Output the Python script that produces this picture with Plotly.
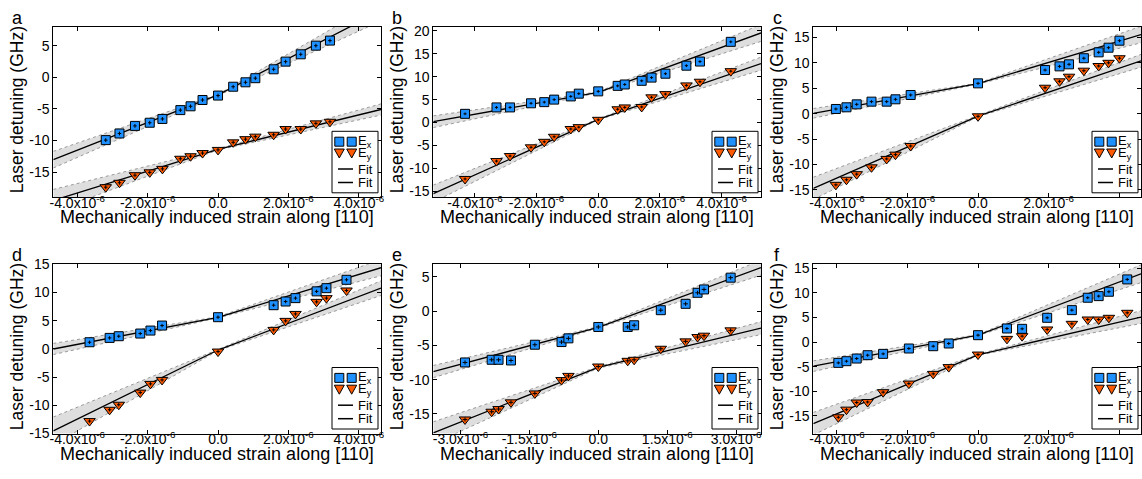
import numpy as np
import plotly.graph_objects as go

W, H = 1142, 479
MICRO = 1e-6          # strain values below are given in units of 1e-6

# ---------------- measured line positions (GHz) vs. strain ----------------
a_strain = [-3.19, -2.80, -2.36, -1.94, -1.58, -1.07, -0.78, -0.44, 0.0,
            0.43, 0.78, 1.06, 1.58, 1.92, 2.35, 2.78, 3.18]
a_ex = [-9.95, -8.9, -7.7, -7.2, -6.6, -5.2, -4.6, -3.6, -2.9,
        -1.5, -0.8, -0.15, 1.26, 2.47, 3.63, 5.0, 5.8]
a_ey = [-17.4, -16.7, -15.5, -15.05, -14.5, -12.9, -12.5, -12.0, -11.5,
        -10.3, -9.8, -9.4, -9.1, -8.2, -8.2, -7.3, -7.05]

b_strain = [-4.32, -3.30, -2.86, -2.18, -1.75, -1.43, -0.89, -0.63, 0.0,
            0.63, 0.86, 1.41, 1.73, 2.18, 2.86, 3.30, 4.30]
b_ex = [1.9, 3.3, 3.3, 4.2, 4.45, 5.0, 5.7, 6.3, 6.8,
        8.0, 8.3, 9.1, 9.8, 10.65, 12.4, 13.3, 17.6]
b_ey = [-12.3, -8.4, -7.3, -5.4, -4.2, -3.1, -1.4, -1.0, 0.6,
        2.9, 3.3, 3.4, 5.5, 6.2, 8.1, 8.9, 11.2]

c_strain = [-4.03, -3.73, -3.44, -3.02, -2.59, -2.34, -1.91, 0.0,
            1.90, 2.31, 2.58, 3.00, 3.42, 3.70, 4.01]
c_ex = [0.92, 1.25, 1.83, 2.36, 2.36, 2.82, 3.67, 5.96,
        8.58, 9.3, 9.7, 10.9, 12.06, 12.97, 14.35]
c_ey = [-14.0, -13.0, -11.9, -10.55, -8.9, -8.06, -6.36, -0.52,
        5.1, 6.36, 7.27, 8.45, 9.37, 10.0, 10.9]

d_strain = [-3.65, -3.08, -2.82, -2.21, -1.92, -1.59, 0.0,
            1.58, 1.92, 2.20, 2.80, 3.08, 3.65]
d_ex = [1.18, 1.95, 2.25, 2.72, 3.25, 4.14, 5.62,
        7.75, 8.4, 9.0, 10.2, 10.77, 12.25]
d_ey = [-12.8, -10.8, -9.9, -7.75, -6.2, -5.5, -0.47,
        3.37, 4.97, 6.2, 8.34, 9.0, 10.36]

e_strain = [-2.90, -2.32, -2.17, -1.90, -1.38, -0.80, -0.65, 0.0,
            0.64, 0.78, 1.36, 1.90, 2.16, 2.30, 2.88]
e_ex = [-7.48, -7.09, -7.09, -7.19, -4.89, -4.5, -3.96, -2.3,
        -2.3, -2.05, 0.15, 1.08, 2.69, 3.18, 4.9]
e_ey = [-15.8, -14.67, -14.28, -13.3, -12.0, -10.05, -9.44, -8.07,
        -7.24, -7.09, -5.48, -4.4, -3.77, -3.57, -2.79]

f_strain = [-3.96, -3.73, -3.44, -3.13, -2.69, -1.96, -1.27, -0.83, 0.0,
            0.82, 1.25, 1.96, 2.66, 3.11, 3.42, 3.71, 4.23]
f_ex = [-4.24, -3.9, -3.36, -2.68, -2.41, -1.32, -0.85, -0.3, 1.39,
        2.75, 2.68, 4.92, 6.48, 9.0, 9.33, 10.22, 12.73]
f_ey = [-15.3, -13.75, -12.3, -12.2, -10.2, -8.45, -6.48, -5.1, -2.55,
        0.64, 1.19, 2.55, 3.7, 4.58, 4.58, 4.92, 5.94]

# ---------------- piecewise-linear fits (panels a..f) ----------------
# offset at zero strain (GHz), slopes for negative / positive strain
# (GHz per 1e-6) and the slope uncertainties that bound the shaded band
ex_offset = [-2.8, 6.6, 5.9, 5.6, -2.35, 1.4]
ex_slope_neg = [2.19, 1.2, 1.25, 1.2, 1.8, 1.35]
ex_slope_pos = [2.88, 2.45, 2.09, 1.9, 2.46, 2.7]
ex_err_neg = [0.26, 0.22, 0.18, 0.19, 0.22, 0.21]
ex_err_pos = [0.33, 0.33, 0.33, 0.29, 0.28, 0.37]

ey_offset = [-11.4, 0.7, -0.5, -0.2, -8.2, -2.6]
ey_slope_neg = [1.73, 3.03, 3.04, 3.06, 2.66, 3.0]
ey_slope_pos = [1.36, 2.3, 2.36, 2.37, 1.62, 1.66]
ey_err_neg = [0.35, 0.33, 0.45, 0.5, 0.42, 0.47]
ey_err_pos = [0.17, 0.25, 0.25, 0.26, 0.24, 0.26]
offset_err = [0.1, 0.1, 0.1, 0.1, 0.1, 0.1]

# measurement uncertainties
detuning_err = 0.3       # GHz
strain_err = 0.05        # 1e-6

# ---------------- axes ----------------
panel_labels = ["a", "b", "c", "d", "e", "f"]
x_limits = [(-4.68, 4.63), (-5.35, 5.28), (-4.67, 4.62),
            (-4.68, 4.63), (-3.59, 3.54), (-4.67, 4.62)]
y_limits = [(-19.0, 8.0), (-16.3, 20.9), (-16.45, 17.1),
            (-15.0, 15.0), (-17.85, 6.85), (-18.6, 15.8)]
x_ticks = [[-4, -2, 0, 2, 4], [-4, -2, 0, 2, 4], [-4, -2, 0, 2, 4],
           [-4, -2, 0, 2, 4], [-3, -1.5, 0, 1.5, 3], [-4, -2, 0, 2, 4]]
y_ticks = [[-15, -10, -5, 0, 5],
           [-15, -10, -5, 0, 5, 10, 15, 20],
           [-15, -10, -5, 0, 5, 10, 15],
           [-15, -10, -5, 0, 5, 10, 15],
           [-15, -10, -5, 0, 5],
           [-15, -10, -5, 0, 5, 10, 15]]

strains = [a_strain, b_strain, c_strain, d_strain, e_strain, f_strain]
ex_values = [a_ex, b_ex, c_ex, d_ex, e_ex, f_ex]
ey_values = [a_ey, b_ey, c_ey, d_ey, e_ey, f_ey]

X_TITLE = "Mechanically induced strain along [110]"
Y_TITLE = "Laser detuning (GHz)"

FONT = "Liberation Sans, Arial, sans-serif"
EX_COLOR = "#1e90ff"
EY_COLOR = "#ff5a00"
BAND_FILL = "rgba(0,0,0,0.13)"
BAND_EDGE = "#999999"

# panel frames in pixels
col_left = [53.3, 433.3, 813.3]
plot_w = 327.7
row_top = [26.7, 264.3]
row_bottom = [197.3, 433.5]


def strain_label(v):
    if v == 0:
        return "0.0"
    return f"{v:.1f}x10<sup>-6</sup>"


def fit_curve(x, off, s_neg, s_pos):
    x = np.asarray(x, dtype=float)
    return off + np.where(x < 0, s_neg * x, s_pos * x)


def band_curves(x, off, s_neg, s_pos, e_neg, e_pos, e_off):
    x = np.asarray(x, dtype=float)
    centre = fit_curve(x, off, s_neg, s_pos)
    spread = np.where(x < 0, e_neg, e_pos) * np.abs(x) + e_off
    return centre + spread, centre - spread


fig = go.Figure()
shapes = []
annotations = []
layout_axes = {}

axis_style = dict(
    ticks="inside", ticklen=4, tickwidth=1, tickcolor="black",
    showline=True, linecolor="black", linewidth=1, mirror="allticks",
    showgrid=False, zeroline=False, automargin=False,
    tickfont=dict(family=FONT, size=14, color="black"),
)

for i in range(6):
    row, col = divmod(i, 3)
    left = col_left[col]
    right = min(left + plot_w, W)
    top, bottom = row_top[row], row_bottom[row]
    sfx = "" if i == 0 else str(i + 1)
    xa, ya = "x" + sfx, "y" + sfx

    layout_axes["xaxis" + sfx] = dict(
        domain=[left / W, right / W], anchor=ya,
        range=[x_limits[i][0] * MICRO, x_limits[i][1] * MICRO],
        tickvals=[v * MICRO for v in x_ticks[i]],
        ticktext=[strain_label(v) for v in x_ticks[i]],
        ticklabelstandoff=-7,
        **axis_style,
    )
    layout_axes["yaxis" + sfx] = dict(
        domain=[1 - bottom / H, 1 - top / H], anchor=xa,
        range=list(y_limits[i]),
        tickvals=y_ticks[i], ticktext=[str(v) for v in y_ticks[i]],
        **axis_style,
    )

    xs = np.array([x_limits[i][0], 0.0, x_limits[i][1]])
    x_line = xs * MICRO
    fits = [
        (ex_offset[i], ex_slope_neg[i], ex_slope_pos[i], ex_err_neg[i], ex_err_pos[i]),
        (ey_offset[i], ey_slope_neg[i], ey_slope_pos[i], ey_err_neg[i], ey_err_pos[i]),
    ]

    # confidence bands
    for off, sn, sp, en, ep in fits:
        up, lo = band_curves(xs, off, sn, sp, en, ep, offset_err[i])
        fig.add_trace(go.Scatter(
            x=np.concatenate([x_line, x_line[::-1]]),
            y=np.concatenate([up, lo[::-1]]),
            mode="lines", fill="toself", fillcolor=BAND_FILL,
            line=dict(width=0), hoverinfo="skip", xaxis=xa, yaxis=ya))
        for edge in (up, lo):
            fig.add_trace(go.Scatter(
                x=x_line, y=edge, mode="lines",
                line=dict(color=BAND_EDGE, width=1, dash="dot"),
                hoverinfo="skip", xaxis=xa, yaxis=ya))

    # fitted lines
    for off, sn, sp, en, ep in fits:
        fig.add_trace(go.Scatter(
            x=x_line, y=fit_curve(xs, off, sn, sp), mode="lines",
            line=dict(color="black", width=1.3), xaxis=xa, yaxis=ya))

    # measured points
    xp = np.array(strains[i]) * MICRO
    for vals, sym, color, size in ((ex_values[i], "square", EX_COLOR, 9),
                                   (ey_values[i], "triangle-down", EY_COLOR, 10)):
        fig.add_trace(go.Scatter(
            x=xp, y=vals, mode="markers",
            marker=dict(symbol=sym, size=size, color=color,
                        line=dict(color="black", width=1)),
            xaxis=xa, yaxis=ya))
        fig.add_trace(go.Scatter(
            x=xp, y=vals, mode="markers",
            marker=dict(size=1, opacity=0),
            error_y=dict(type="constant", value=detuning_err, color="black",
                         thickness=1, width=0),
            error_x=dict(type="constant", value=strain_err * MICRO, color="black",
                         thickness=1, width=0),
            hoverinfo="skip", xaxis=xa, yaxis=ya))

    # legend box
    xd, yd = xa + " domain", ya + " domain"
    px = dict(xref=xd, yref=yd, xsizemode="pixel", ysizemode="pixel",
              xanchor=1, yanchor=0, layer="above")
    shapes.append(dict(type="rect", x0=-49, x1=-3, y0=4.5, y1=66,
                       fillcolor="white", line=dict(color="black", width=1), **px))
    for cx in (-41.7, -29.3):
        shapes.append(dict(type="rect", x0=cx - 4.5, x1=cx + 4.5,
                           y0=55.6 - 4.5, y1=55.6 + 4.5, fillcolor=EX_COLOR,
                           line=dict(color="black", width=1), **px))
        cy = 44.3
        shapes.append(dict(type="path",
                           path=f"M{cx - 5},{cy + 4} L{cx + 5},{cy + 4} L{cx},{cy - 5} Z",
                           fillcolor=EY_COLOR, line=dict(color="black", width=1), **px))
    for ly in (28.3, 14.8):
        shapes.append(dict(type="line", x0=-43, x1=-28, y0=ly, y1=ly,
                           line=dict(color="black", width=1.5), **px))
    for txt, ly in (("E<sub>x</sub>", 55.6), ("E<sub>y</sub>", 44.3),
                    ("Fit", 28.3), ("Fit", 14.8)):
        annotations.append(dict(
            text=txt, xref=xd, yref=yd, x=1, y=0, xshift=-25, yshift=ly,
            xanchor="left", yanchor="middle", showarrow=False,
            font=dict(family=FONT, size=13, color="black")))

    # axis titles and panel letter
    annotations.append(dict(
        text=X_TITLE, xref="paper", yref="paper", x=(left + plot_w / 2) / W,
        y=1 - (bottom + 20) / H, xanchor="center", yanchor="middle",
        showarrow=False, font=dict(family=FONT, size=18, color="black")))
    annotations.append(dict(
        text=Y_TITLE, xref="paper", yref="paper", x=(left - 36) / W,
        y=1 - ((top + bottom) / 2 - 2) / H, xanchor="center", yanchor="middle",
        textangle=-90, showarrow=False,
        font=dict(family=FONT, size=17.5, color="black")))
    annotations.append(dict(
        text=panel_labels[i], xref="paper", yref="paper", x=(left - 36) / W,
        y=1 - (top - 9) / H, xanchor="center", yanchor="middle",
        showarrow=False, font=dict(family=FONT, size=18, color="black")))

fig.update_layout(
    template="none",
    width=W, height=H, margin=dict(l=0, r=0, t=0, b=0),
    paper_bgcolor="white", plot_bgcolor="white", showlegend=False,
    font=dict(family=FONT, color="black"),
    shapes=shapes, annotations=annotations, **layout_axes)

fig.write_html("out.html")
